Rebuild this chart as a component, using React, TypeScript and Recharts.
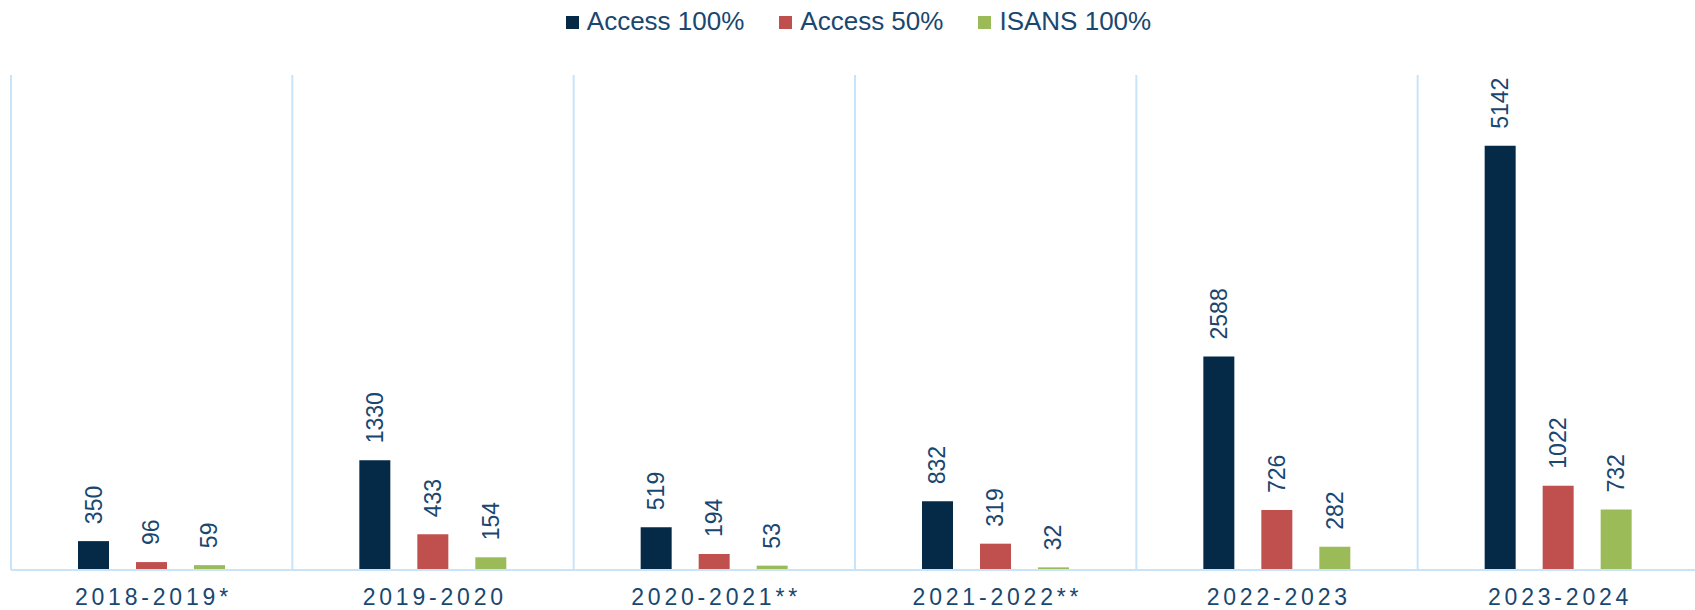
import { BarChart, Bar, XAxis, YAxis, CartesianGrid, Legend, LabelList } from 'recharts'

const periods = ['2018-2019*', '2019-2020', '2020-2021**', '2021-2022**', '2022-2023', '2023-2024']
const access100 = [350, 1330, 519, 832, 2588, 5142]
const access50 = [96, 433, 194, 319, 726, 1022]
const isans100 = [59, 154, 53, 32, 282, 732]

const data = periods.map((period, i) => ({
  period,
  access100: access100[i],
  access50: access50[i],
  isans100: isans100[i],
}))

const FONT = '"Liberation Sans", Arial, sans-serif'
const TEXT = '#19476f'
const GRID = '#c9e3f9'

// vertical separators sit on the category boundaries, not the centres
function boundaryLines({ offset }: any) {
  const step = offset.width / periods.length
  return [...periods.map((_, i) => offset.left + i * step), offset.left + offset.width]
}

function ValueLabel(props: any) {
  const { x, y, width, value } = props
  const cx = Number(x) + Number(width) / 2
  const cy = Number(y) - 17
  return (
    <text
      x={cx}
      y={cy}
      transform={`rotate(-90 ${cx} ${cy})`}
      textAnchor="start"
      dominantBaseline="central"
      fill={TEXT}
      fontSize={23}
      fontFamily={FONT}
    >
      {value}
    </text>
  )
}

function PeriodTick(props: any) {
  const { x, y, payload } = props
  return (
    <text
      x={x}
      y={y}
      dy="0.71em"
      dx={1.75}
      textAnchor="middle"
      fill={TEXT}
      fontSize={23}
      fontFamily={FONT}
      style={{ letterSpacing: '3.8px' }}
    >
      {payload.value}
    </text>
  )
}

function renderLegend(props: any) {
  const { payload } = props
  return (
    <div
      style={{
        height: 42,
        display: 'flex',
        justifyContent: 'center',
        alignItems: 'flex-start',
        paddingTop: 6,
        paddingLeft: 22,
        boxSizing: 'border-box',
        fontFamily: FONT,
        fontSize: 26,
        lineHeight: '30px',
        color: TEXT,
      }}
    >
      {payload.map((entry: any, i: number) => (
        <div key={entry.value} style={{ display: 'flex', alignItems: 'center', marginLeft: i ? 35 : 0 }}>
          <span style={{ width: 13, height: 13, background: entry.color, marginRight: 8, marginTop: 2 }} />
          <span>{entry.value}</span>
        </div>
      ))}
    </div>
  )
}

export default function App() {
  return (
    <div style={{ position: 'absolute', left: 0, top: 0, width: 1695, height: 610, overflow: 'hidden', background: '#fff' }}>
      <BarChart
        width={1700}
        height={610}
        data={data}
        margin={{ top: 33, right: 1, left: 11, bottom: 0 }}
        barSize={31}
        barGap={27}
      >
        <CartesianGrid
          horizontal={false}
          stroke={GRID}
          strokeWidth={2}
          verticalCoordinatesGenerator={boundaryLines}
        />
        <XAxis
          dataKey="period"
          height={40}
          tickLine={false}
          tickSize={0}
          tickMargin={19}
          axisLine={{ stroke: GRID, strokeWidth: 2 }}
          tick={<PeriodTick />}
          interval={0}
        />
        <YAxis hide domain={[0, 6000]} />
        <Legend verticalAlign="top" content={renderLegend} wrapperStyle={{ left: 0, top: 0, width: 1695 }} />
        <Bar dataKey="access100" name="Access 100%" fill="#042a48" isAnimationActive={false}>
          <LabelList dataKey="access100" content={<ValueLabel />} />
        </Bar>
        <Bar dataKey="access50" name="Access 50%" fill="#c0504d" isAnimationActive={false}>
          <LabelList dataKey="access50" content={<ValueLabel />} />
        </Bar>
        <Bar dataKey="isans100" name="ISANS 100%" fill="#9bbb59" isAnimationActive={false}>
          <LabelList dataKey="isans100" content={<ValueLabel />} />
        </Bar>
      </BarChart>
    </div>
  )
}
